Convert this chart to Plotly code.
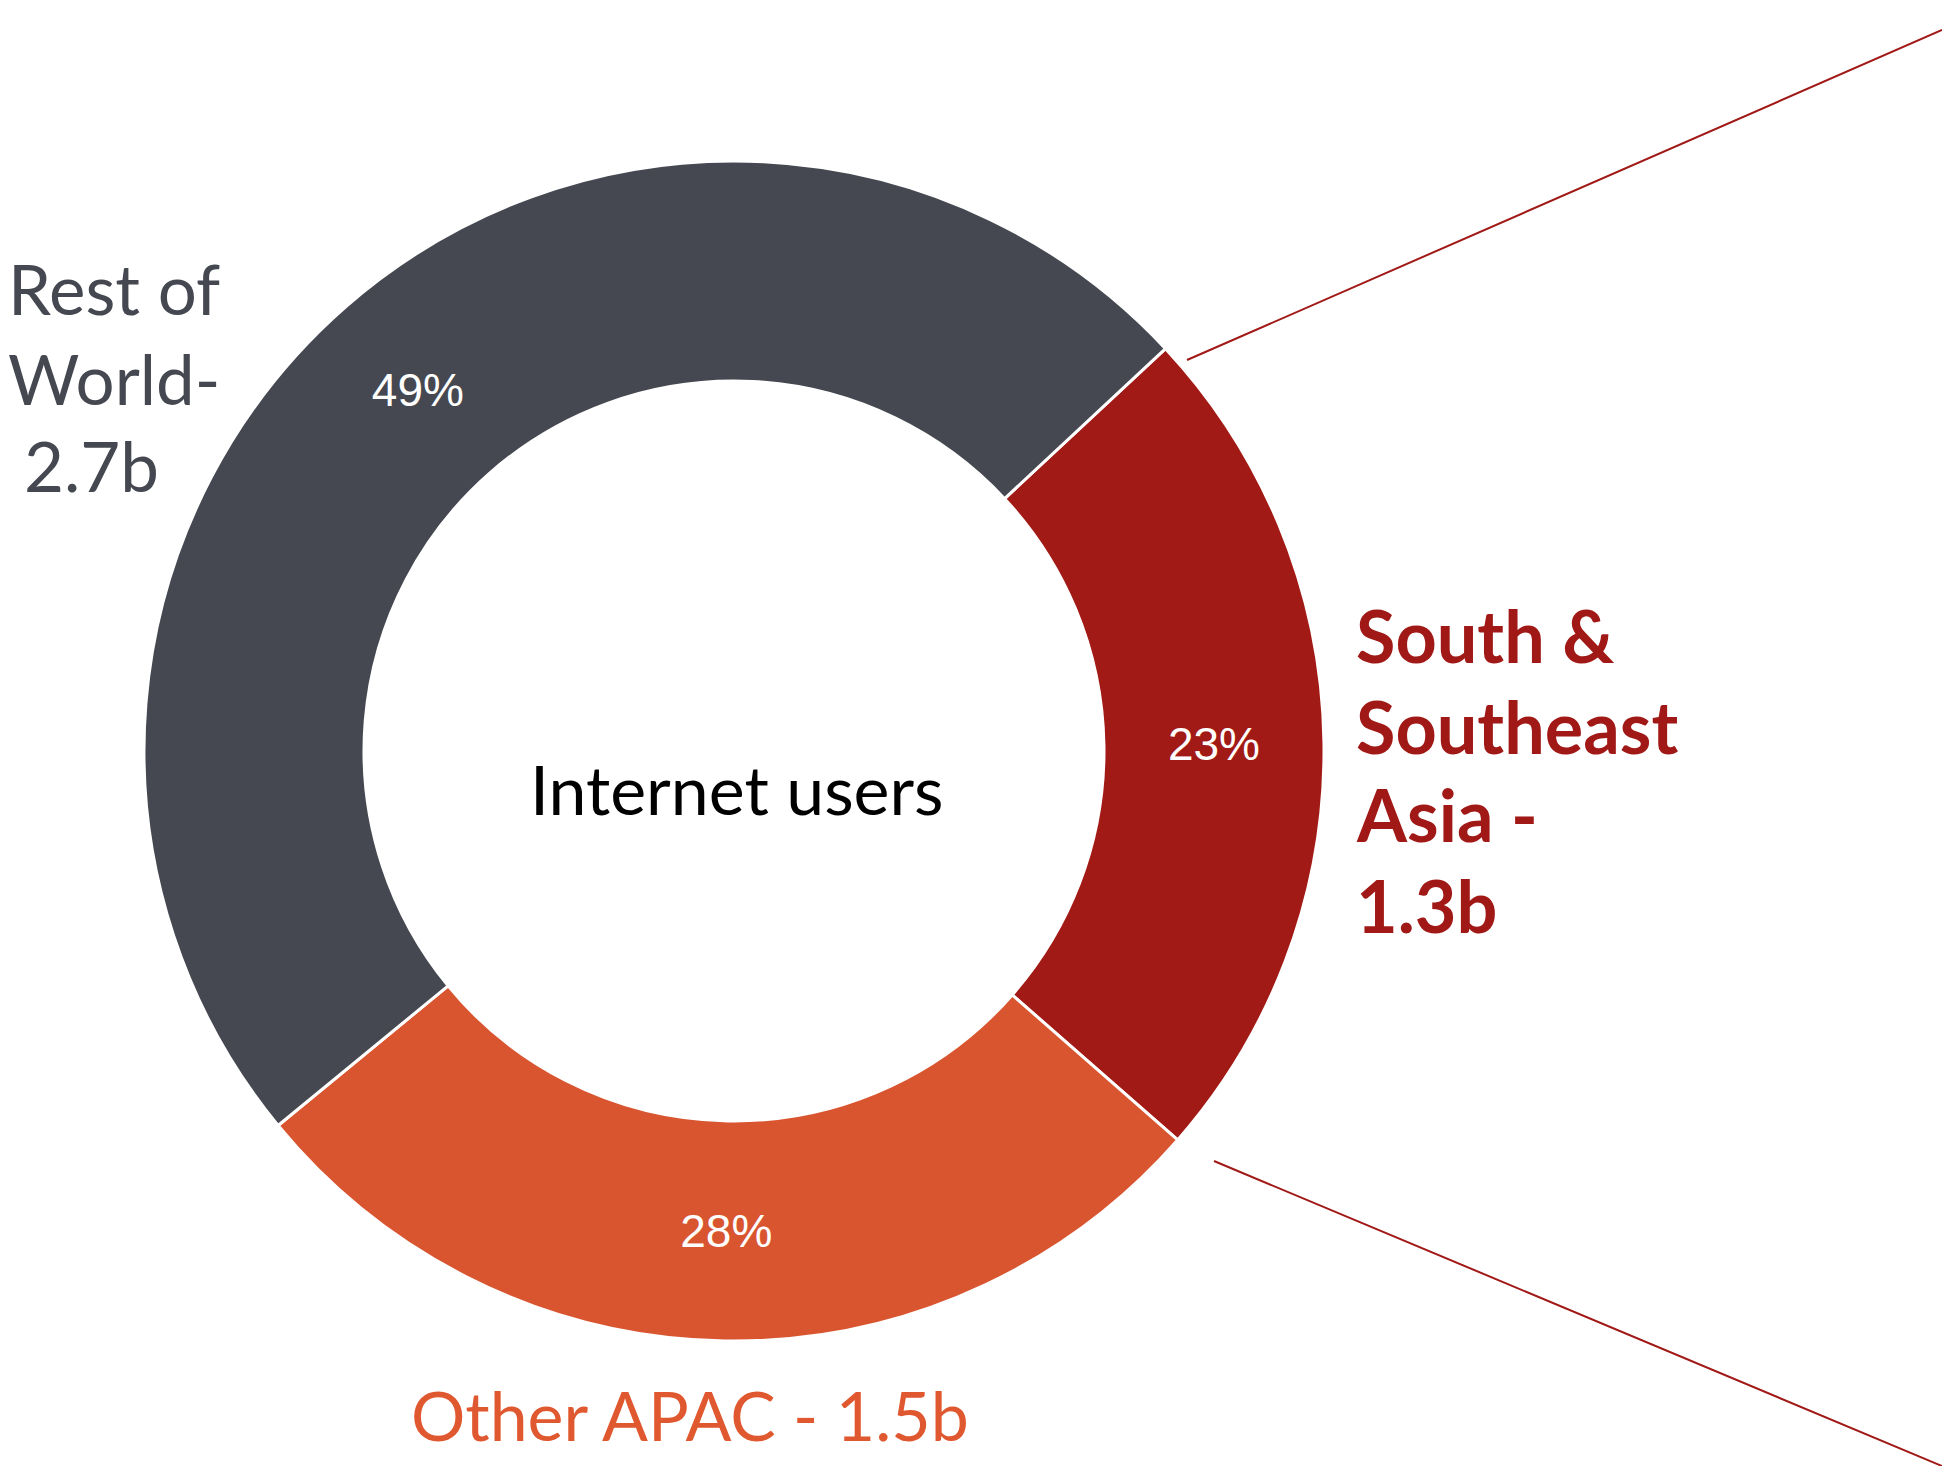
import plotly.graph_objects as go

W, H = 1942, 1466

# ---- data ----
regions = ["South & Southeast Asia", "Other APAC", "Rest of World"]
share_pct = [23.4, 27.6, 49.0]
users_b = ["1.3b", "1.5b", "2.7b"]
slice_colors = ["#A21A15", "#D85530", "#454850"]
center_title = "Internet users"
label_lines = {
    "Rest of World": ["Rest of", "World-", users_b[2]],
    "South & Southeast Asia": ["South &amp;", "Southeast", "Asia -", users_b[0]],
    "Other APAC": ["Other APAC - " + users_b[1]],
}


def px(x):
    return x / W


def py(y):
    return 1 - y / H


cx, cy, r_out, r_in = 734, 751, 590, 370

fig = go.Figure()
fig.add_trace(go.Pie(
    labels=regions,
    values=share_pct,
    sort=False,
    direction="clockwise",
    rotation=47,
    hole=r_in / r_out,
    marker=dict(colors=slice_colors, line=dict(color="white", width=3)),
    texttemplate="%{value:.0f}%",
    textposition="inside",
    insidetextorientation="horizontal",
    textfont=dict(family="Liberation Sans, Arial, sans-serif", size=46, color="white"),
    hoverinfo="label+value",
    showlegend=False,
    domain=dict(x=[px(cx - r_out), px(cx + r_out)],
                y=[py(cy + r_out), py(cy - r_out)]),
))

ann = []


def add_line(text, x, baseline, size, color, anchor="left", bold=False):
    mid = baseline - 0.39 * size
    t = "<b>" + text + "</b>" if bold else text
    ann.append(dict(text=t, x=px(x), y=py(mid), xref="paper", yref="paper",
                    xanchor=anchor, yanchor="middle", showarrow=False,
                    font=dict(family="Lato", size=size, color=color)))


# centre title
add_line(center_title, 737, 815, 68, "#000000", anchor="center")

# Rest of World label
rw = label_lines["Rest of World"]
add_line(rw[0], 6, 315, 69, slice_colors[2])
add_line(rw[1], 6, 405, 69, slice_colors[2])
add_line(rw[2], 22, 492, 69, slice_colors[2])

# South & Southeast Asia label
for txt, bl in zip(label_lines["South & Southeast Asia"], [663, 754, 842, 933]):
    add_line(txt, 1354, bl, 72, "#A11916", bold=True)

# Other APAC label
add_line(label_lines["Other APAC"][0], 690, 1441, 68, "#E0582F", anchor="center")

shapes = [
    dict(type="line", xref="paper", yref="paper",
         x0=px(1187), y0=py(360), x1=px(1942), y1=py(30),
         line=dict(color="#A11916", width=2)),
    dict(type="line", xref="paper", yref="paper",
         x0=px(1214), y0=py(1161), x1=px(1942), y1=py(1466),
         line=dict(color="#A11916", width=2)),
]

fig.update_layout(
    width=W, height=H,
    margin=dict(l=0, r=0, t=0, b=0),
    paper_bgcolor="white", plot_bgcolor="white",
    annotations=ann, shapes=shapes,
)

fig.write_html("out.html", config={"displayModeBar": False})
